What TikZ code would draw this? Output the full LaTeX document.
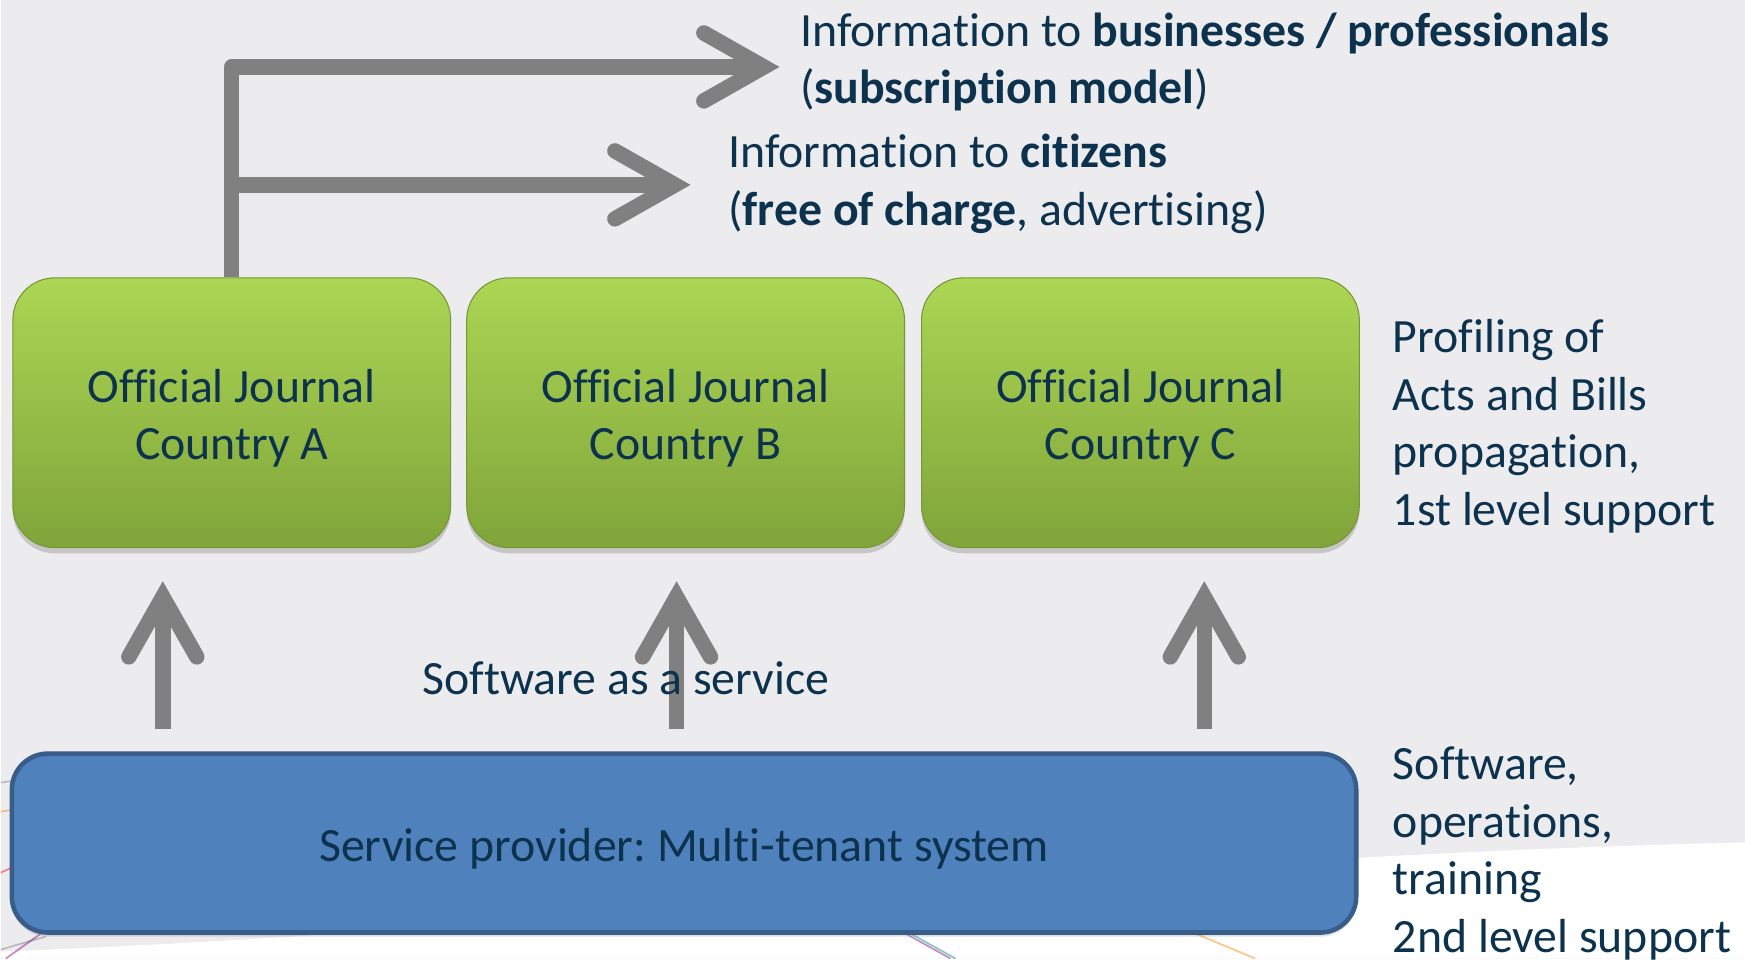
\documentclass[tikz,border=0pt]{standalone}
\usepackage{fontspec}
\setmainfont{Carlito}[Ligatures=NoCommon]
\usetikzlibrary{positioning,arrows.meta,shadows}
\frenchspacing

\definecolor{bggrey}{RGB}{236,236,238}
\definecolor{navy}{RGB}{12,50,78}
\definecolor{arrowgrey}{RGB}{128,128,128}
\definecolor{greentop}{RGB}{172,214,84}
\definecolor{greenbot}{RGB}{128,164,58}
\definecolor{spblue}{RGB}{79,129,189}
\definecolor{spedge}{RGB}{56,93,138}

\newcommand{\sinkline}[1]{\raisebox{-0.55mm}[\height][\depth]{#1}}

\tikzset{
  journal/.style={rounded corners=0.42cm, minimum width=4.38cm, minimum height=2.70cm,
    top color=greentop, bottom color=greenbot, draw=greenbot!92!black, line width=0.3pt,
    align=center, text=navy, font=\fontsize{13.6}{16.4}\selectfont,
    drop shadow={shadow xshift=0pt, shadow yshift=-1.6pt, opacity=0.35}},
  provider/.style={rounded corners=0.36cm, minimum width=13.45cm, minimum height=1.79cm,
    fill=spblue, draw=spedge, line width=1.3pt, text=navy,
    font=\fontsize{13.6}{16.4}\selectfont,
    drop shadow={shadow xshift=0pt, shadow yshift=-1.2pt, opacity=0.25}},
  note/.style={text=navy, align=left, inner sep=0pt, anchor=west,
    font=\fontsize{13.6}{16.4}\selectfont},
  flow/.style={draw=arrowgrey, line width=4.4pt, line join=round,
    -{Straight Barb[length=6mm, width=6.8mm, line cap=round]}},
  swirl/.style={line width=0.5pt, opacity=0.45}
}

\begin{document}
\begin{tikzpicture}
  \fill[bggrey] (0,0) rectangle (17.45,9.59);
  \fill[white] (0,0) -- (0,0.07) .. controls (6,0.3) and (11,1.02) .. (17.45,1.16) -- (17.45,0) -- cycle;

  \draw[swirl, gray] (0,1.76) -- (0.2,1.79);
  \draw[swirl, orange] (0,1.47) -- (0.2,1.50);
  \draw[swirl, red] (0,0.86) -- (0.2,0.95);
  \draw[swirl, gray] (0,0.09) -- (0.45,0.22);
  \draw[swirl, violet] (0.05,0) -- (0.4,0.25);
  \draw[swirl, violet] (9.05,0.25) -- (9.5,0);
  \draw[swirl, teal] (9.1,0.25) -- (9.55,0);
  \draw[swirl, orange] (11.95,0.25) -- (12.55,0);

  \node[journal] (ojA) at (2.31,5.46) {\sinkline{Official Journal}\\\sinkline{Country A}};
  \node[journal, right=1.5mm of ojA] (ojB) {\sinkline{Official Journal}\\\sinkline{Country B}};
  \node[journal, right=1.6mm of ojB] (ojC) {\sinkline{Official Journal}\\\sinkline{Country C}};

  \node[provider] (sp) at (6.835,1.155) {\sinkline{Service provider: Multi-tenant system}};

  \node[note] (biz) at (7.99,8.97) {Information to \textbf{businesses / professionals}\\(\textbf{subscription model})};
  \node[note] (cit) at (7.27,7.75) {Information to \textbf{citizens}\\(\textbf{free of charge}, advertising)};
  \node[note] (prof) at (13.92,5.325) {Profiling of\\Acts and Bills\\propagation,\\1st level support};
  \node[note] (sw) at (13.92,1.05) {Software,\\operations,\\training\\2nd level support};

  \coordinate (bizin) at (7.79,8.92);
  \coordinate (citin) at (6.90,7.74);
  \draw[flow] (ojA.north) |- (bizin);
  \draw[flow] (ojA.north |- citin) -- (citin);

  \coordinate (u1) at (1.62,0);
  \coordinate (u2) at (6.76,0);
  \coordinate (u3) at (12.04,0);
  \draw[flow, shorten <=0.22cm, shorten >=0.33cm] (sp.north -| u1) -- (ojA.south -| u1);
  \draw[flow, shorten <=0.22cm, shorten >=0.33cm] (sp.north -| u2) -- (ojB.south -| u2);
  \draw[flow, shorten <=0.22cm, shorten >=0.33cm] (sp.north -| u3) -- (ojC.south -| u3);

  \node[note] (saas) at (4.21,2.80) {Software as a service};
\end{tikzpicture}
\end{document}
